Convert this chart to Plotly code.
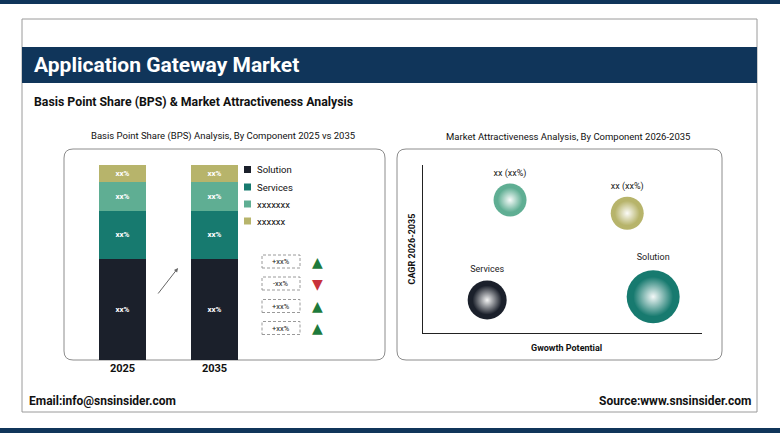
import plotly.graph_objects as go

W, H = 780, 433

# ---- data ----
years = ["2025", "2035"]
components = ["Solution", "Services", "xxxxxxx", "xxxxxx"]
share_2025 = [52.0, 24.5, 15.0, 8.5]
share_2035 = [52.0, 24.5, 15.0, 8.5]
bar_labels = ["xx%", "xx%", "xx%", "xx%"]
colors = ["#1b202b", "#177a6f", "#5fae93", "#b7b46b"]

change_labels = ["+xx%", "-xx%", "+xx%", "+xx%"]
change_up = [True, False, True, True]

bubble_labels = ["Solution", "Services", "xx (xx%)", "xx (xx%)"]
growth = [82.5, 23.0, 31.2, 73.2]
cagr = [21.6, 19.6, 79.2, 71.3]
bubble_size = [53, 39, 33, 33]
bubble_colors = ["#177a6f", "#1b202b", "#5fae93", "#b7b46b"]


def px(x):
    return x / W


def py(y):
    return 1 - y / H


def rounded(x0, y0, x1, y1, r):
    rx, ry = r / W, r / H
    X0, X1, Y0, Y1 = px(x0), px(x1), py(y1), py(y0)
    return (f"M{X0+rx},{Y0} L{X1-rx},{Y0} Q{X1},{Y0} {X1},{Y0+ry} "
            f"L{X1},{Y1-ry} Q{X1},{Y1} {X1-rx},{Y1} L{X0+rx},{Y1} "
            f"Q{X0},{Y1} {X0},{Y1-ry} L{X0},{Y0+ry} Q{X0},{Y0} {X0+rx},{Y0} Z")


fig = go.Figure()

# stacked bars
for i, name in enumerate(components):
    fig.add_trace(go.Bar(
        x=years, y=[share_2025[i], share_2035[i]], name=name,
        marker=dict(color=colors[i], line=dict(width=0)),
        text=[bar_labels[i]] * 2, textposition="inside",
        insidetextanchor="middle",
        textfont=dict(size=8, color="white", family="Roboto", weight="bold"),
        showlegend=False, xaxis="x", yaxis="y",
    ))

# bubbles: solid sphere + white glow fading out to transparent
fig.add_trace(go.Scatter(
    x=growth, y=cagr, mode="markers+text", text=bubble_labels,
    textposition="top center",
    textfont=dict(size=9, color="#222", family="Roboto"),
    marker=dict(size=bubble_size, sizemode="diameter", color=bubble_colors,
                opacity=1, line=dict(width=0)),
    showlegend=False, xaxis="x2", yaxis="y2", cliponaxis=False,
))
fig.add_trace(go.Scatter(
    x=growth, y=cagr, mode="markers",
    marker=dict(size=[s * 0.75 for s in bubble_size], sizemode="diameter",
                color="rgba(255,255,255,0)", opacity=1, line=dict(width=0),
                gradient=dict(type="radial", color="rgba(255,255,255,0.95)")),
    showlegend=False, hoverinfo="skip", xaxis="x2", yaxis="y2",
))

navy = "#10355a"
shapes = [
    dict(type="rect", x0=0, x1=1, y0=py(4), y1=1, fillcolor=navy, line=dict(width=0)),
    dict(type="rect", x0=0, x1=1, y0=0, y1=py(428), fillcolor=navy, line=dict(width=0)),
    dict(type="rect", x0=px(22), x1=px(757), y0=py(412), y1=py(19),
         line=dict(color="#9a9a9a", width=1)),
    dict(type="rect", x0=px(22), x1=px(757), y0=py(83), y1=py(47),
         fillcolor=navy, line=dict(width=0)),
    dict(type="path", path=rounded(64, 149, 385, 360, 9),
         line=dict(color="#8c8c8c", width=1), layer="below"),
    dict(type="path", path=rounded(397, 149, 722, 360, 9),
         line=dict(color="#8c8c8c", width=1), layer="below"),
]

annotations = [
    dict(text="<b>Application Gateway Market</b>", x=px(32), y=py(65), xanchor="left",
         yanchor="middle", font=dict(size=21, color="white", family="Roboto")),
    dict(text="<b>Basis Point Share (BPS) & Market Attractiveness Analysis</b>",
         x=px(32), y=py(102), xanchor="left", yanchor="middle",
         font=dict(size=12.3, color="#111", family="Roboto")),
    dict(text="Basis Point Share (BPS) Analysis, By Component 2025 vs 2035",
         x=px(223.5), y=py(136.5), xanchor="center", yanchor="middle",
         font=dict(size=9.5, color="#111", family="Roboto")),
    dict(text="Market Attractiveness Analysis, By Component 2026-2035",
         x=px(567.5), y=py(136.5), xanchor="center", yanchor="middle",
         font=dict(size=9.5, color="#111", family="Roboto")),
    dict(text="<b>CAGR 2026-2035</b>", x=px(411.5), y=py(249), textangle=-90,
         xanchor="center", yanchor="middle",
         font=dict(size=9, color="#111", family="Roboto")),
    dict(text="<b>Gwowth Potential</b>", x=px(566), y=py(347.5),
         xanchor="center", yanchor="middle",
         font=dict(size=9, color="#111", family="Roboto")),
    dict(text="<b>Email:info@snsinsider.com</b>", x=px(27), y=py(401),
         xanchor="left", yanchor="middle",
         font=dict(size=12, color="#111", family="Roboto")),
    dict(text="<b>Source:www.snsinsider.com</b>", x=px(753), y=py(401),
         xanchor="right", yanchor="middle",
         font=dict(size=12, color="#111", family="Roboto")),
    dict(text="", x=px(178), y=py(268), ax=-21, ay=27, showarrow=True,
         arrowhead=2, arrowsize=0.8, arrowwidth=1, arrowcolor="#666"),
]

# legend: small squares + names
legend_y = [169.5, 187, 204, 221]
for name, col, yy in zip(components, colors, legend_y):
    shapes.append(dict(type="rect", x0=px(244), x1=px(251), y0=py(yy + 3.5),
                       y1=py(yy - 3.5), fillcolor=col, line=dict(width=0)))
    annotations.append(dict(text=name, x=px(254.5), y=py(yy), xanchor="left",
                            yanchor="middle",
                            font=dict(size=9.5, color="#111", family="Roboto")))

# change boxes + trend arrows
row_y = [261.5, 283.5, 306, 328]
for lab, up, yy in zip(change_labels, change_up, row_y):
    shapes.append(dict(type="rect", x0=px(262), x1=px(300), y0=py(yy + 6.5),
                       y1=py(yy - 6.5),
                       line=dict(color="#9a9a9a", width=1, dash="3px,2px")))
    annotations.append(dict(text=lab, x=px(281), y=py(yy), xanchor="center",
                            yanchor="middle",
                            font=dict(size=7.5, color="#222", family="Roboto")))
    annotations.append(dict(text="▲" if up else "▼", x=px(317), y=py(yy),
                            xanchor="center", yanchor="middle",
                            font=dict(size=14, color="#1d7a3c" if up else "#c8323a",
                                      family="DejaVu Sans")))

for s in shapes:
    s.setdefault("xref", "paper")
    s.setdefault("yref", "paper")
for a in annotations:
    a.setdefault("xref", "paper")
    a.setdefault("yref", "paper")
    a.setdefault("showarrow", False)

fig.update_layout(
    width=W, height=H,
    margin=dict(l=0, r=0, t=0, b=0),
    paper_bgcolor="white", plot_bgcolor="rgba(0,0,0,0)",
    barmode="stack", bargap=0.489, showlegend=False,
    font=dict(family="Roboto"),
    xaxis=dict(domain=[px(76.5), px(260.5)], showgrid=False, zeroline=False,
               showline=False, ticks="",
               tickfont=dict(size=11, color="#111", family="Roboto", weight="bold"),
               fixedrange=True),
    yaxis=dict(domain=[py(360), py(165)], range=[0, 100], visible=False),
    xaxis2=dict(domain=[px(423), px(702)], range=[0, 100], showgrid=False,
                zeroline=False, showline=True, linecolor="#222", linewidth=1,
                showticklabels=False, ticks="", anchor="y2"),
    yaxis2=dict(domain=[py(333), py(165)], range=[0, 100], showgrid=False,
                zeroline=False, showline=True, linecolor="#222", linewidth=1,
                showticklabels=False, ticks="", anchor="x2"),
    shapes=shapes, annotations=annotations,
)

fig.write_html("out.html", config={"displayModeBar": False},
               post_script="document.body.style.margin='0';")
